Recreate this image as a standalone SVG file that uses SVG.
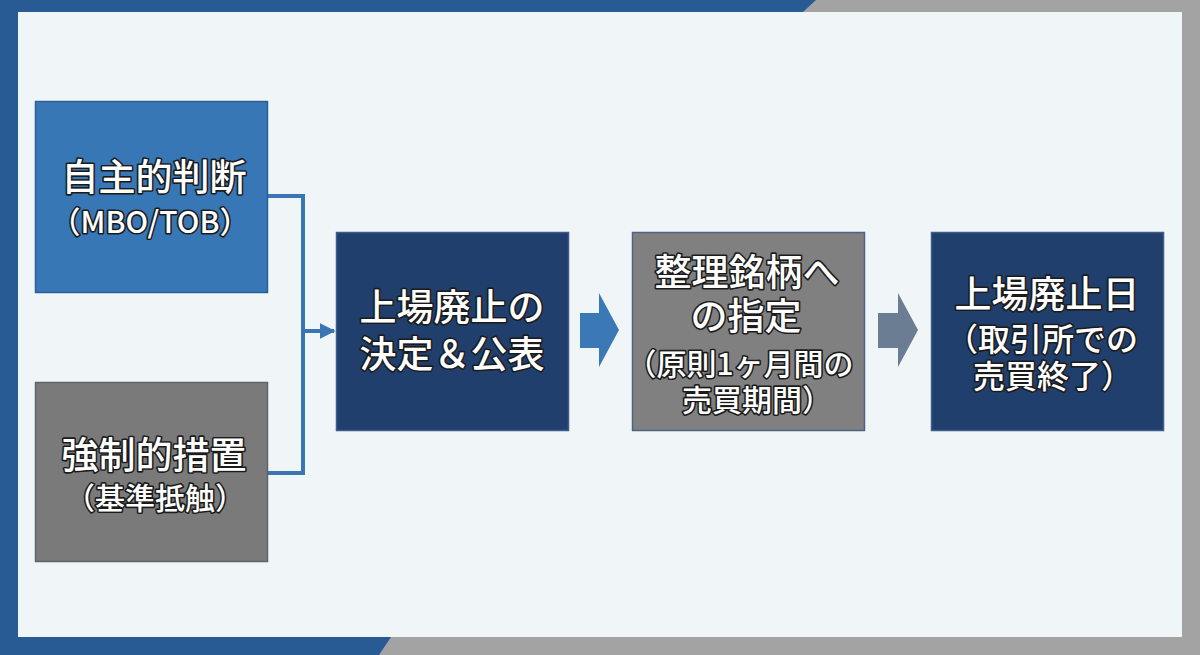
<svg xmlns="http://www.w3.org/2000/svg" width="1200" height="655" viewBox="0 0 1200 655">
<defs>
<style>
.t{font-family:"Noto Sans CJK JP","Noto Sans",sans-serif;font-weight:500;fill:#ffffff;stroke:#1b1b1b;stroke-width:3.2px;paint-order:stroke;stroke-linejoin:round;text-anchor:middle;dominant-baseline:central}
.big{font-size:37px}
.sm{font-size:30px}
.md{font-size:32px}
.line{fill:none;stroke:#3a76b3;stroke-width:4}
</style>
<marker id="ah" viewBox="0 0 10 10" refX="9" refY="5" markerWidth="4" markerHeight="4" orient="auto" markerUnits="strokeWidth">
<path d="M0,0 L10,5 L0,10 Z" fill="#3a76b3"/>
</marker>
</defs>
<rect width="1200" height="655" fill="#a3a3a3"/>
<polygon points="0,0 816,0 803,12 0,12" fill="#285a93"/>
<rect x="0" y="0" width="18" height="655" fill="#285a93"/>
<polygon points="0,637 391,637 379,655 0,655" fill="#285a93"/>
<rect x="18" y="12" width="1164" height="625" fill="#f0f5f8"/>

<g id="connectors">
<polyline class="line" points="267,196 303,196 303,473 267,473"/>
<line class="line" x1="303" y1="331" x2="334" y2="331" marker-end="url(#ah)"/>
<polygon points="580,313 599,313 599,293 619,330 599,367 599,348 580,348" fill="#3a78b6"/>
<polygon points="878,313 898,313 898,293 918,330 898,367 898,348 878,348" fill="#6a7d93"/>
</g>

<g id="n1">
<rect x="35.5" y="101.5" width="232" height="191" fill="#3877b6" stroke="#2b5f97" stroke-width="1.5"/>
<text class="t big" x="154" y="175">自主的判断</text>
<text class="t sm" x="150" y="220">（MBO/TOB）</text>
</g>
<g id="n2">
<rect x="35.5" y="382.5" width="232" height="179" fill="#7a7a7a" stroke="#5b6470" stroke-width="1.5"/>
<text class="t big" x="154" y="453">強制的措置</text>
<text class="t sm" x="155" y="496">（基準抵触）</text>
</g>
<g id="n3">
<rect x="336.5" y="232.5" width="232" height="198" fill="#203f6d" stroke="#3d5c88" stroke-width="1.5"/>
<text class="t big" x="452" y="305">上場廃止の</text>
<text class="t big" x="452" y="352">決定＆公表</text>
</g>
<g id="n4">
<rect x="632.5" y="232.5" width="232" height="198" fill="#808080" stroke="#4d6384" stroke-width="1.5"/>
<text class="t big" x="747" y="270">整理銘柄へ</text>
<text class="t big" x="746" y="314">の指定</text>
<text class="t sm" x="740" y="362">（原則1ヶ月間の</text>
<text class="t sm" x="757" y="398">売買期間）</text>
</g>
<g id="n5">
<rect x="931.5" y="232.5" width="232" height="198" fill="#203f6d" stroke="#3d5c88" stroke-width="1.5"/>
<text class="t big" x="1047" y="292">上場廃止日</text>
<text class="t md" x="1042" y="337">（取引所での</text>
<text class="t md" x="1053" y="374">売買終了）</text>
</g>
</svg>
